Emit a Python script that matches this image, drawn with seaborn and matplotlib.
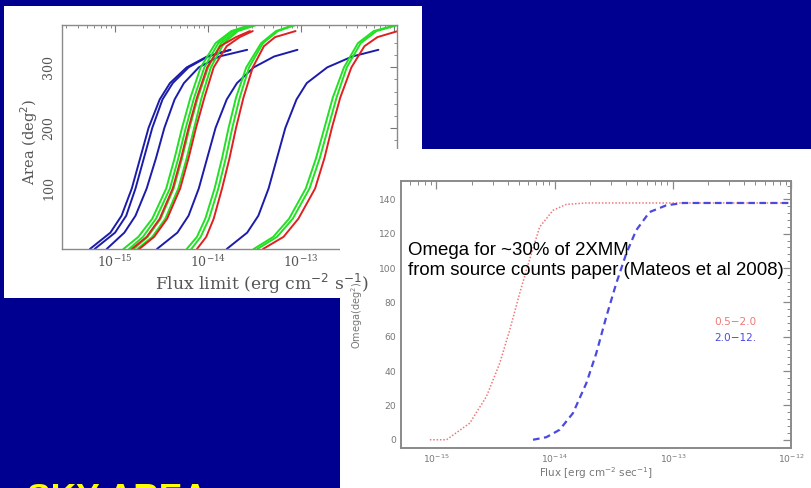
import numpy as np
import pandas as pd
import matplotlib
matplotlib.use("Agg")
import matplotlib.pyplot as plt
from matplotlib.ticker import LogLocator, MultipleLocator, NullFormatter, FixedLocator
import seaborn as sns

sns.set_theme(style="white")
plt.rcParams["font.family"] = ["DejaVu Sans"]

# ---------------- data: survey area curves (left panel) ----------------
# area levels at which each curve is sampled
blue_levels = [0, 27, 55, 100, 150, 200, 247, 274, 300, 318, 329]
green_levels = [0, 20, 50, 100, 150, 200, 250, 300, 340, 360, 370]
red_levels = [0, 20, 50, 100, 150, 200, 250, 300, 335, 350, 360]

# log10 flux limit (erg cm^-2 s^-1) at those area levels
blue_curves = [
    [-15.27, -15.05, -14.93, -14.82, -14.73, -14.64, -14.52, -14.41, -14.23, -14.01, -13.76],
    [-15.22, -15.00, -14.88, -14.78, -14.69, -14.60, -14.49, -14.38, -14.21, -14.00, -13.76],
    [-15.09, -14.90, -14.78, -14.66, -14.56, -14.47, -14.36, -14.26, -14.10, -13.88, -13.58],
    [-14.55, -14.33, -14.21, -14.10, -14.01, -13.92, -13.80, -13.69, -13.51, -13.29, -13.04],
    [-13.80, -13.58, -13.46, -13.35, -13.26, -13.17, -13.05, -12.94, -12.72, -12.45, -12.17],
]
green_curves = [
    [-14.91, -14.75, -14.60, -14.45, -14.36, -14.28, -14.19, -14.08, -13.92, -13.75, -13.55],
    [-14.85, -14.70, -14.56, -14.41, -14.32, -14.24, -14.15, -14.04, -13.89, -13.73, -13.53],
    [-14.80, -14.65, -14.51, -14.37, -14.28, -14.20, -14.11, -14.00, -13.86, -13.70, -13.50],
    [-14.76, -14.60, -14.46, -14.32, -14.23, -14.15, -14.07, -13.97, -13.83, -13.68, -13.48],
    [-14.23, -14.12, -14.03, -13.93, -13.85, -13.78, -13.70, -13.59, -13.43, -13.27, -13.08],
    [-14.18, -14.08, -13.99, -13.89, -13.81, -13.74, -13.66, -13.56, -13.41, -13.25, -13.06],
    [-13.51, -13.30, -13.13, -12.95, -12.84, -12.75, -12.66, -12.54, -12.39, -12.22, -11.98],
    [-13.47, -13.26, -13.09, -12.91, -12.80, -12.71, -12.62, -12.51, -12.36, -12.19, -11.96],
]
red_curves = [
    [-14.82, -14.66, -14.52, -14.38, -14.29, -14.21, -14.12, -14.01, -13.87, -13.70, -13.55],
    [-14.74, -14.58, -14.44, -14.30, -14.21, -14.13, -14.04, -13.94, -13.80, -13.66, -13.52],
    [-14.12, -14.02, -13.94, -13.85, -13.77, -13.70, -13.62, -13.52, -13.40, -13.28, -13.06],
    [-13.41, -13.19, -13.03, -12.85, -12.75, -12.67, -12.58, -12.46, -12.32, -12.18, -11.96],
]
area_ticks = [100, 200, 300]

# ---------------- data: sky coverage from source counts (right panel) ----------------
soft_logflux = [-15.056, -14.915, -14.718, -14.577, -14.465, -14.380, -14.296, -14.239,
                -14.127, -14.014, -13.901, -13.732, -12.0]
soft_omega = [0.0, 0.0, 9.7, 25.2, 44.5, 63.9, 85.2, 98.8, 123.9, 133.6, 137.1, 137.9, 137.9]
hard_logflux = [-14.183, -14.070, -13.958, -13.845, -13.732, -13.648, -13.563, -13.479,
                -13.394, -13.310, -13.197, -13.056, -12.915, -12.0]
hard_omega = [0.0, 1.5, 5.8, 15.5, 32.9, 50.3, 71.6, 91.0, 108.4, 122.0, 132.6, 136.5, 137.9, 137.9]
band_labels = ["0.5\u22122.0", "2.0\u221212."]

BG = "#000090"
W, H = 812, 488


def frac(x0, y0, x1, y1):
    """pixel box (top-left origin) -> figure fraction rect"""
    return [x0 / W, 1 - y1 / H, (x1 - x0) / W, (y1 - y0) / H]


def blank(ax):
    ax.set_xticks([])
    ax.set_yticks([])
    for s in ax.spines.values():
        s.set_visible(False)
    ax.set_facecolor("white")


fig = plt.figure(figsize=(W / 100, H / 100), dpi=100, facecolor=BG)

# "SKY AREA" heading at the foot of the slide
fig.text(27 / W, 1 - 481.5 / H, "SKY AREA", color="#ffff00", fontsize=25.5,
         fontweight="bold", family=["Liberation Sans", "DejaVu Sans"], va="top", ha="left")

# ---------- left panel ----------
pan1 = fig.add_axes(frac(4, 6, 422, 298))
blank(pan1)

ax1 = fig.add_axes(frac(62, 25, 397, 249))
rows = []
for col, curves, levels in (("#1c1caa", blue_curves, blue_levels),
                            ("#22e022", green_curves, green_levels),
                            ("#e02020", red_curves, red_levels)):
    for i, c in enumerate(curves):
        for lf, a in zip(c, levels):
            rows.append({"curve": f"{col}-{i}", "color": col, "flux": 10 ** lf, "area": a})
df1 = pd.DataFrame(rows)
for name, g in df1.groupby("curve", sort=False):
    sns.lineplot(data=g, x="flux", y="area", ax=ax1, color=g["color"].iloc[0],
                 lw=1.4, sort=False, estimator=None, legend=False)
ax1.set_xscale("log")
ax1.set_xlim(10 ** -15.57, 10 ** -11.97)
ax1.set_ylim(0, 370)
ax1.set_facecolor("white")
for s in ax1.spines.values():
    s.set_color("#8a8a8a")
    s.set_linewidth(1.0)
ax1.xaxis.set_major_locator(FixedLocator([1e-15, 1e-14, 1e-13, 1e-12]))
ax1.xaxis.set_minor_locator(LogLocator(base=10, subs=np.arange(2, 10), numticks=20))
ax1.xaxis.set_minor_formatter(NullFormatter())
ax1.yaxis.set_major_locator(FixedLocator(area_ticks))
ax1.yaxis.set_minor_locator(MultipleLocator(20))
ax1.tick_params(which="both", direction="in", top=True, right=True, color="#777777",
                labelcolor="#555555", labelsize=9)
ax1.tick_params(which="major", length=5, width=0.8)
ax1.tick_params(which="minor", length=2.5, width=0.6)
ax1.tick_params(axis="y", pad=5)
for lab in ax1.get_yticklabels():
    lab.set_rotation(90)
    lab.set_va("center")
    lab.set_family("DejaVu Serif")
for lab in ax1.get_xticklabels():
    lab.set_family("DejaVu Serif")
ax1.set_xlabel("")
ax1.set_ylabel("Area (deg$^2$)", fontsize=10.5, color="#555555", family="DejaVu Serif")
ax1.yaxis.set_label_coords(-0.066, 0.48)
ax1.grid(False)

# ---------- right panel ----------
pan2 = fig.add_axes(frac(340, 149, 812, 488))
blank(pan2)

ax2 = fig.add_axes(frac(401, 181, 791, 448))
df_soft = pd.DataFrame({"flux": 10 ** np.array(soft_logflux), "omega": soft_omega})
df_hard = pd.DataFrame({"flux": 10 ** np.array(hard_logflux), "omega": hard_omega})
sns.lineplot(data=df_soft, x="flux", y="omega", ax=ax2, color="#f07878", lw=1.1,
             linestyle=(0, (1, 1.2)), sort=False, estimator=None)
sns.lineplot(data=df_hard, x="flux", y="omega", ax=ax2, color="#4a4ae0", lw=1.6,
             linestyle=(0, (3, 2)), sort=False, estimator=None)
ax2.set_xscale("log")
ax2.set_xlim(10 ** -15.3, 1e-12)
ax2.set_ylim(-4.8, 150.7)
ax2.set_facecolor("white")
for s in ax2.spines.values():
    s.set_color("#8a8a8a")
    s.set_linewidth(1.4)
ax2.xaxis.set_major_locator(FixedLocator([1e-15, 1e-14, 1e-13, 1e-12]))
ax2.xaxis.set_minor_locator(LogLocator(base=10, subs=np.arange(2, 10), numticks=20))
ax2.xaxis.set_minor_formatter(NullFormatter())
ax2.yaxis.set_major_locator(MultipleLocator(20))
ax2.yaxis.set_minor_locator(MultipleLocator(4))
ax2.tick_params(which="both", direction="in", top=True, right=True, color="#888888",
                labelcolor="#777777", labelsize=6.6)
ax2.tick_params(which="major", length=6, width=0.9)
ax2.tick_params(which="minor", length=3, width=0.7)
ax2.set_xlabel("Flux [erg cm$^{-2}$ sec$^{-1}$]", fontsize=7.5, color="#777777", labelpad=0)
ax2.set_ylabel("Omega(deg$^2$)", fontsize=7, color="#777777", labelpad=4)
ax2.yaxis.set_label_coords(-0.092, 0.495)
ax2.grid(False)
ax2.text(10 ** -12.65, 68.6, band_labels[0], color="#f07878", fontsize=7.6, va="center")
ax2.text(10 ** -12.65, 59.3, band_labels[1], color="#4a4ae0", fontsize=7.6, va="center")

# left-panel axis title sits above the overlapping right panel
fig.text(262 / W, 1 - 284 / H, "Flux limit (erg cm$^{-2}$ s$^{-1}$)", fontsize=12.3,
         color="#555555", family="DejaVu Serif", ha="center", va="center")

fig.text(408 / W, 1 - 242 / H,
         "Omega for ~30% of 2XMM\nfrom source counts paper (Mateos et al 2008)",
         fontsize=13.4, color="black", family=["Liberation Sans", "DejaVu Sans"],
         va="top", ha="left", linespacing=1.2)

fig.savefig("out.png", dpi=100, facecolor=BG)
